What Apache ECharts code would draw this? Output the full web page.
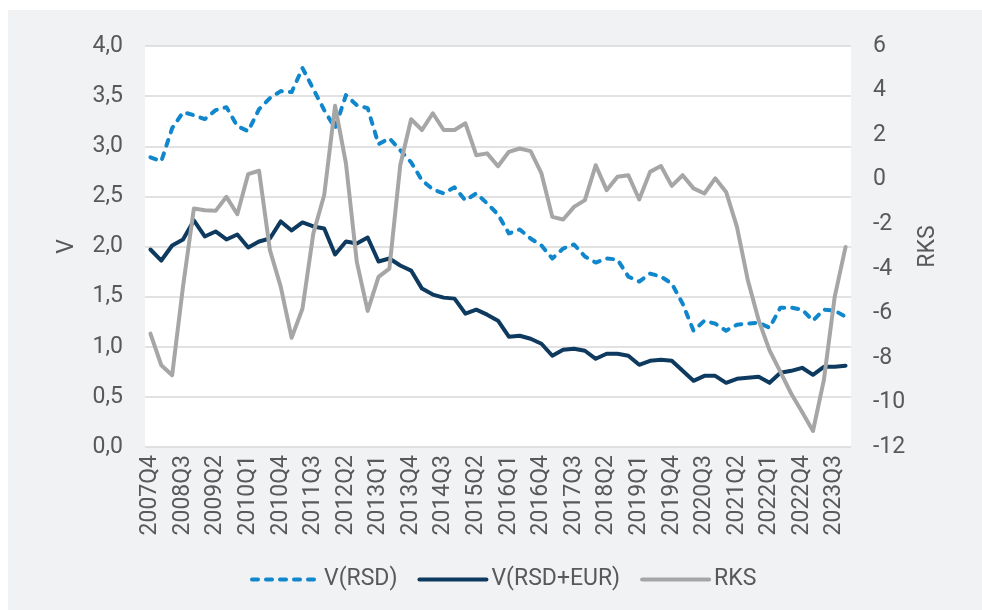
<!DOCTYPE html>
<html>
<head>
<meta charset="utf-8">
<script src="https://cdn.jsdelivr.net/npm/echarts@6/dist/echarts.min.js"></script>
<style>
html,body{margin:0;padding:0;background:#ffffff;width:982px;height:610px;overflow:hidden;}
#bg{position:absolute;left:8px;top:10px;width:974px;height:600px;background:#f1f2f4;}
#chart{position:absolute;left:0;top:0;width:982px;height:610px;}
</style>
</head>
<body>
<div id="bg"></div>
<div id="chart"></div>
<script>
const categories = [
 '2007Q4',
 '2008Q1','2008Q2','2008Q3','2008Q4',
 '2009Q1','2009Q2','2009Q3','2009Q4',
 '2010Q1','2010Q2','2010Q3','2010Q4',
 '2011Q1','2011Q2','2011Q3','2011Q4',
 '2012Q1','2012Q2','2012Q3','2012Q4',
 '2013Q1','2013Q2','2013Q3','2013Q4',
 '2014Q1','2014Q2','2014Q3','2014Q4',
 '2015Q1','2015Q2','2015Q3','2015Q4',
 '2016Q1','2016Q2','2016Q3','2016Q4',
 '2017Q1','2017Q2','2017Q3','2017Q4',
 '2018Q1','2018Q2','2018Q3','2018Q4',
 '2019Q1','2019Q2','2019Q3','2019Q4',
 '2020Q1','2020Q2','2020Q3','2020Q4',
 '2021Q1','2021Q2','2021Q3','2021Q4',
 '2022Q1','2022Q2','2022Q3','2022Q4',
 '2023Q1','2023Q2','2023Q3','2023Q4'
];

const vRSD = [2.89,2.85,3.18,3.34,3.31,3.27,3.36,3.39,3.20,3.15,3.37,3.48,3.55,3.54,3.78,3.57,3.36,3.18,3.51,3.41,3.38,3.02,3.08,2.96,2.84,2.66,2.57,2.53,2.59,2.46,2.53,2.43,2.32,2.13,2.17,2.08,2.01,1.88,1.98,2.02,1.90,1.84,1.88,1.87,1.70,1.65,1.73,1.70,1.63,1.43,1.16,1.26,1.23,1.16,1.22,1.23,1.24,1.19,1.39,1.39,1.37,1.26,1.37,1.36,1.30];

const vRSDEUR = [1.97,1.86,2.01,2.07,2.26,2.10,2.15,2.07,2.12,1.99,2.05,2.08,2.25,2.16,2.24,2.20,2.18,1.92,2.05,2.03,2.09,1.85,1.88,1.81,1.76,1.58,1.52,1.49,1.48,1.33,1.37,1.32,1.26,1.10,1.11,1.08,1.03,0.91,0.97,0.98,0.96,0.88,0.93,0.93,0.91,0.82,0.86,0.87,0.86,0.76,0.66,0.71,0.71,0.64,0.68,0.69,0.70,0.64,0.74,0.76,0.79,0.72,0.80,0.80,0.81];

const rks = [-6.91,-8.33,-8.78,-4.8,-1.29,-1.37,-1.40,-0.77,-1.55,0.25,0.40,-3.16,-4.81,-7.10,-5.78,-2.41,-0.69,3.32,0.73,-3.69,-5.89,-4.36,-3.99,0.65,2.71,2.23,2.98,2.23,2.23,2.53,1.10,1.18,0.60,1.25,1.40,1.28,0.28,-1.67,-1.79,-1.22,-0.92,0.65,-0.47,0.13,0.20,-0.89,0.35,0.61,-0.28,0.20,-0.39,-0.62,0.06,-0.55,-2.12,-4.51,-6.31,-7.66,-8.63,-9.61,-10.43,-11.28,-9.0,-5.26,-3.02];

const seriesNames = ['V(RSD)', 'V(RSD+EUR)', 'RKS'];

const textColor = '#595959';
const fontFamily = 'Roboto';
const chart = echarts.init(document.getElementById('chart'), null, {renderer: 'canvas'});
chart.setOption({
  backgroundColor: 'transparent',
  animation: false,
  textStyle: {fontFamily: fontFamily, color: textColor},
  grid: {left: 145, right: 131, top: 46, bottom: 163, show: true, backgroundColor: '#ffffff', borderWidth: 0},
  legend: {
    left: 245, top: 563,
    itemWidth: 67, itemHeight: 14, itemGap: 20,
    itemStyle: {opacity: 0},
    lineStyle: {width: 4, cap: 'round'},
    textStyle: {fontFamily: fontFamily, fontSize: 23, color: textColor},
    data: seriesNames
  },
  xAxis: {
    type: 'category',
    data: categories,
    boundaryGap: true,
    axisLine: {show: false},
    axisTick: {show: false},
    axisLabel: {interval: 2, rotate: 90, margin: 8, fontSize: 23, color: textColor, fontFamily: fontFamily}
  },
  yAxis: [
    {
      type: 'value', min: 0, max: 4, interval: 0.5,
      name: 'V', nameLocation: 'middle', nameRotate: 90, nameGap: 66,
      nameTextStyle: {fontSize: 23, color: textColor, fontFamily: fontFamily},
      axisLine: {show: false}, axisTick: {show: false},
      axisLabel: {margin: 22, fontSize: 23, color: textColor, fontFamily: fontFamily,
        formatter: v => v.toFixed(1).replace('.', ',')},
      splitLine: {show: true, lineStyle: {color: '#d9d9d9', width: 1.5}}
    },
    {
      type: 'value', min: -12, max: 6, interval: 2, position: 'right',
      name: 'RKS', nameLocation: 'middle', nameRotate: 90, nameGap: 66,
      nameTextStyle: {fontSize: 23, color: textColor, fontFamily: fontFamily},
      axisLine: {show: false}, axisTick: {show: false},
      axisLabel: {margin: 22, fontSize: 23, color: textColor, fontFamily: fontFamily},
      splitLine: {show: false}
    }
  ],
  series: [
    {
      name: seriesNames[0], type: 'line', yAxisIndex: 0, data: vRSD,
      symbol: 'none', color: '#1087cd',
      lineStyle: {width: 4, color: '#1087cd', type: [6, 8], cap: 'round', join: 'round'}
    },
    {
      name: seriesNames[1], type: 'line', yAxisIndex: 0, data: vRSDEUR,
      symbol: 'none', color: '#0d3a5e',
      lineStyle: {width: 4, color: '#0d3a5e', cap: 'round', join: 'round'}
    },
    {
      name: seriesNames[2], type: 'line', yAxisIndex: 1, data: rks,
      symbol: 'none', color: '#a6a6a6',
      lineStyle: {width: 4, color: '#a6a6a6', cap: 'round', join: 'round'}
    }
  ]
});
</script>
</body>
</html>
